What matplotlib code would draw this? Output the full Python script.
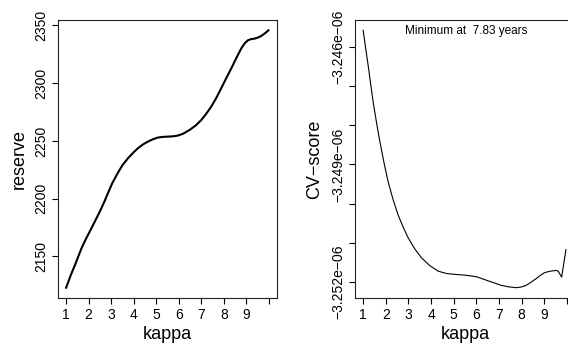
import matplotlib
matplotlib.use("Agg")
import matplotlib.pyplot as plt
import numpy as np

plt.rcParams['font.family'] = ['Liberation Sans', 'DejaVu Sans']

# left panel: reserve vs kappa
kappa_l = [1.0, 1.2, 1.4, 1.69, 1.9, 2.13, 2.5, 2.7, 2.86, 3.05, 3.3, 3.5, 3.75,
           4.0, 4.19, 4.4, 4.63, 4.85, 5.07, 5.3, 5.5, 5.75, 5.96, 6.2, 6.48,
           6.75, 7.0, 7.2, 7.44, 7.66, 7.88, 8.1, 8.33, 8.55, 8.77, 8.92, 9.07,
           9.2, 9.36, 9.5, 9.66, 9.82, 9.98]
reserve = [2123.0, 2133.5, 2143.0, 2157.5, 2166.0, 2174.7, 2189.0, 2197.5, 2205.0,
           2213.5, 2222.5, 2229.0, 2235.1, 2240.2, 2243.7, 2246.8, 2249.4, 2251.4,
           2252.9, 2253.5, 2253.7, 2254.0, 2254.6, 2256.3, 2259.5, 2263.3, 2268.1,
           2273.0, 2279.6, 2287.0, 2295.4, 2304.0, 2312.7, 2321.5, 2329.9, 2334.3,
           2337.1, 2338.0, 2338.5, 2339.3, 2340.8, 2343.0, 2345.7]

# right panel: CV-score vs kappa (units of 1e-6)
kappa_r = [1.0, 1.11, 1.22, 1.33, 1.44, 1.59, 1.74, 1.92, 2.1, 2.32, 2.54, 2.77,
           2.99, 3.28, 3.58, 3.95, 4.32, 4.7, 5.05, 5.5, 6.0, 6.5, 7.1, 7.45,
           7.77, 8.0, 8.2, 8.42, 8.64, 8.82, 9.0, 9.25, 9.52, 9.62, 9.77, 9.96]
cv = [-3.24558, -3.24603, -3.24647, -3.24694, -3.24740, -3.24793, -3.24842,
      -3.24895, -3.24943, -3.24989, -3.25028, -3.25060, -3.25087, -3.25115,
      -3.25138, -3.25158, -3.25172, -3.25178, -3.25180, -3.25182, -3.25186,
      -3.25196, -3.25208, -3.25212, -3.25214, -3.25212, -3.25208, -3.25200,
      -3.25191, -3.25183, -3.25176, -3.25172, -3.25170, -3.25172, -3.25187,
      -3.25117]
cv = [c * 1e-6 for c in cv]

x_ticks = list(range(1, 11))
x_labels = [str(i) for i in range(1, 10)] + [""]
res_ticks = [2150, 2200, 2250, 2300, 2350]
cv_ticks = [-3.246e-6, -3.247e-6, -3.248e-6, -3.249e-6, -3.250e-6, -3.251e-6, -3.252e-6]
cv_labels = ["\u22123.246e\u221206", "", "", "\u22123.249e\u221206", "", "", "\u22123.252e\u221206"]
min_text = "Minimum at  7.83 years"


def rlim(v):
    lo, hi = min(v), max(v)
    d = (hi - lo) * 0.04
    return lo - d, hi + d


fig = plt.figure(figsize=(5.68, 3.48), dpi=100)
ax1 = fig.add_axes([58 / 568, 50 / 348, 219 / 568, 278 / 348])
ax2 = fig.add_axes([355 / 568, 50 / 348, 220 / 568, 278 / 348])

ax1.plot(kappa_l, reserve, color='black', lw=1.5)
ax2.plot(kappa_r, cv, color='black', lw=0.8)

for ax in (ax1, ax2):
    ax.set_xlim(rlim([1, 10]))
    ax.set_xticks(x_ticks)
    ax.set_xticklabels(x_labels)
    ax.tick_params(direction='out', length=4.5, width=0.8, labelsize=10, pad=2.5)
    for s in ax.spines.values():
        s.set_linewidth(0.8)
        s.set_color('#222222')
    ax.set_xlabel('kappa', fontsize=13)
    ax.xaxis.set_label_coords(0.5, -0.1)

ax1.set_ylim(rlim(reserve))
ax1.set_yticks(res_ticks)
ax1.set_yticklabels([str(t) for t in res_ticks], rotation=90, va='center')
ax1.set_ylabel('reserve', fontsize=13, va='center')
ax1.yaxis.set_label_coords(-0.178, 0.5)

ax2.set_ylim(rlim(cv))
ax2.set_yticks(cv_ticks)
ax2.set_yticklabels(cv_labels, rotation=90, va='center')
ax2.set_ylabel('CV\u2212score', fontsize=13, va='center')
ax2.yaxis.set_label_coords(-0.182, 0.5)
ax2.text(0.505, 0.96, min_text, transform=ax2.transAxes, ha='center', va='center', fontsize=8.5)

fig.savefig('out.png', dpi=100)
